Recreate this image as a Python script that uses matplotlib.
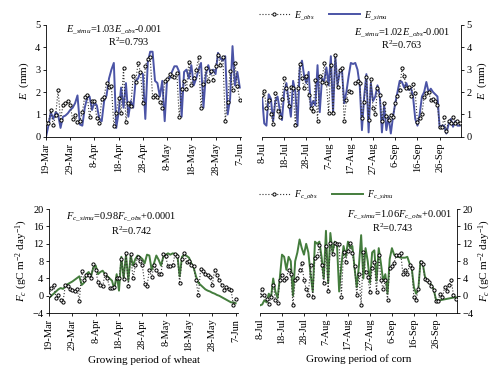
import matplotlib
matplotlib.use('Agg')
import matplotlib.pyplot as plt
import numpy as np
from matplotlib.lines import Line2D

plt.rcParams['font.family'] = ['Liberation Serif', 'DejaVu Serif']
plt.rcParams['mathtext.fontset'] = 'custom'
plt.rcParams['mathtext.rm'] = 'Liberation Serif'
plt.rcParams['mathtext.it'] = 'Liberation Serif:italic'

# tick labels (every 10 days)
wheat_ticks = ['19-Mar', '29-Mar', '8-Apr', '18-Apr', '28-Apr', '8-May', '18-May', '28-May', '7-Jun']
corn_ticks = ['8-Jul', '18-Jul', '28-Jul', '7-Aug', '17-Aug', '27-Aug', '6-Sep', '16-Sep', '26-Sep']

# evapotranspiration, wheat (19-Mar .. 7-Jun)
e_obs_wheat = [0.63, 0.63, 1.2, 0.52, 0.97, 2.08, 0.75, 1.4, 1.5, 1.6, 1.4, 0.78, 0.97, 0.67, 0.72,
               1.1, 1.8, 1.85, 0.87, 1.6, 1.6, 0.82, 0.6, 1.67, 1.8, 2.42, 2.24, 2.27, 0.48, 1.07,
               1.72, 1.07, 3.06, 0.67, 1.52, 1.37, 2.7, 2.46, 3.28, 2.9, 1.52, 3.16, 3.46, 3.55, 1.8,
               1.87, 1.8, 1.57, 1.31, 2.49, 2.57, 2.8, 2.7, 2.66, 2.86, 0.87, 2.12, 2.5, 2.12, 3.36,
               2.31, 2.61, 2.98, 3.55, 1.3, 2.36, 3.06, 2.49, 2.94, 2.54, 3.16, 3.66, 3.21, 3.58, 0.72,
               1.57, 2.94, 2.09, 3.31, 2.27, 1.64]
e_sim_wheat = [0.0, 0.5, 1.1, 0.8, 1.1, 1.0, 0.4, 0.9, 0.95, 1.05, 1.2, 1.3, 1.5, 1.85, 0.55,
               0.5, 1.3, 1.75, 1.8, 1.2, 1.55, 1.4, 0.8, 0.7, 1.6, 1.85, 2.6, 3.0, 3.3, 0.4,
               1.1, 2.2, 1.3, 2.4, 0.9, 1.6, 1.3, 2.5, 2.6, 2.9, 2.8, 0.8, 3.3, 3.8, 3.8,
               2.5, 2.4, 1.8, 2.5, 0.7, 2.6, 2.6, 2.9, 3.15, 3.15, 2.9, 0.9, 2.9, 3.0, 2.6,
               3.2, 2.3, 2.6, 3.0, 3.3, 1.3, 2.8, 3.2, 2.8, 3.0, 2.8, 3.75, 3.5, 3.4, 3.6,
               1.0, 1.7, 4.05, 2.3, 2.9, 2.2]

# evapotranspiration, corn (8-Jul .. 5-Oct)
e_obs_corn = [1.87, 2.06, 1.31, 1.64, 1.04, 0.57, 1.94, 1.15, 0.9, 1.69, 2.61, 2.16, 1.37, 2.24, 2.16,
              0.52, 2.16, 3.25, 2.61, 2.16, 2.72, 1.87, 1.27, 1.15, 2.54, 0.72, 2.72, 2.46, 3.31, 2.42,
              1.07, 3.21, 1.07, 3.66, 2.21, 2.98, 3.06, 0.72, 1.64, 2.06, 2.01, np.nan, 2.39, 2.49, 2.42,
              0.82, 1.57, 2.69, 0.75, 2.57, 1.27, 1.01, 2.16, 1.87, 0.72, 1.52, 0.93, 0.75, 0.97, 0.87,
              1.49, 1.82, 2.09, 3.06, 2.72, 2.16, 2.21, 1.82, 2.36, 1.94, 0.67, 0.82, 1.01, 1.79, 1.94,
              2.01, 1.64, 1.67, 1.61, 1.42, 0.42, 0.42, 0.87, 0.27, 0.72, 0.63, 0.9, 0.6, 0.72, 0.63]
e_sim_corn = [1.85, 0.6, 0.5, 1.9, 1.7, 0.7, 1.6, 1.8, 1.2, 0.75, 2.0, 2.4, 1.6, 0.9, 2.5,
              2.0, 0.5, 3.1, 3.4, 2.7, 2.4, 2.9, 1.3, 1.6, 1.4, 3.2, 1.1, 2.6, 2.5, 3.1,
              2.3, 3.6, 1.1, 3.6, 2.3, 2.9, 3.0, 1.5, 2.0, 2.7, 3.3, 3.25, 3.3, 3.0, 2.3,
              0.3, 1.8, 2.8, 0.2, 2.4, 1.6, 1.8, 2.3, 1.9, 0.2, 1.4, 0.3, 0.9, 0.15, 0.9,
              1.5, 2.0, 2.5, 2.45, 2.2, 2.4, 2.1, 2.2, 1.8, 0.8, 0.5, 1.0, 1.8, 2.0, 2.45,
              2.0, 2.15, 2.0, 1.9, 1.8, 0.4, 0.5, 0.5, 0.15, 0.55, 0.8, 0.45, 0.7, 0.5, 0.5]

# carbon flux, wheat
f_obs_wheat = [0.3, 1.8, 2.6, -0.5, 0.1, -0.9, -1.4, 2.4, 2.2, 1.6, 1.4, 1.2, 1.6, -1.2, 5.7,
               3.7, 4.7, 4.9, 4.2, 7.3, 5.9, 3.2, 2.4, 2.2, 5.0, 4.0, 1.9, 1.9, 2.0, 4.0,
               4.0, 8.6, 3.9, 9.9, 2.2, 9.6, 4.0, 7.0, 9.0, 8.0, 7.0, 2.8, 2.2, 6.0, 4.3,
               7.0, 6.0, 5.0, 5.0, 9.6, 9.1, 6.8, 6.8, 7.0, 9.6, 9.1, 2.9, 8.4, 9.9, 7.8,
               8.0, 7.0, 6.8, 3.6, 0.1, 6.3, 5.7, 5.1, 4.7, 4.3, 2.6, 6.0, 4.7, 3.6, 2.6,
               1.4, 2.0, 1.6, 1.4, -2.0, -0.7]
f_sim_wheat = [-0.5, 0.0, 0.5, 1.0, 1.5, 1.8, 1.6, 2.2, 2.7, 3.0, 3.3, 3.7, 4.1, 4.5, 2.5,
               3.0, 5.0, 5.5, 4.5, 6.5, 7.0, 5.0, 5.5, 5.8, 5.0, 4.5, 4.0, 3.5, 1.5, 5.0,
               1.2, 9.0, 4.0, 9.5, 3.5, 9.3, 7.0, 8.5, 9.3, 9.0, 8.5, 7.5, 9.5, 9.3, 6.0,
               7.5, 9.3, 8.3, 7.0, 9.0, 9.5, 9.8, 9.5, 9.8, 9.7, 9.5, 4.5, 9.0, 9.5, 9.2,
               8.8, 7.5, 6.5, 4.5, 3.0, 2.5, 2.0, 1.5, 1.2, 1.0, 0.7, 0.5, 0.2, 0.0, -0.3,
               -0.6, -0.9, -1.2, -1.5, -1.5, -1.7]

# carbon flux, corn
f_obs_corn = [0.2, 1.6, 0.1, -0.7, -1.9, -0.2, 2.6, -0.9, -1.7, 3.6, 4.7, 3.6, 4.2, 6.0, 5.0,
              -2.0, 3.6, 4.2, 5.9, 7.6, 3.7, 1.6, 0.3, 7.0, -0.2, 8.8, 9.1, 11.7, 7.0, 2.9,
              11.5, 1.2, 12.2, 9.6, 12.2, 11.9, 11.9, -0.2, 10.1, 7.8, 10.4, 12.1, 9.8, 6.8, 0.1,
              5.1, -2.0, 10.1, 5.5, 4.3, 0.9, 6.5, 7.8, 0.9, 9.4, 3.6, 1.6, 3.7, -0.9, 6.5,
              6.8, 7.6, 9.4, 9.4, 9.9, 5.0, 6.0, 5.1, 7.0, 6.5, -0.3, -0.9, 1.6, 7.8, 7.3,
              3.9, 3.6, 3.2, 2.2, 1.4, -1.1, -1.1, 0.5, -0.3, 2.0, 1.2, 2.6, 3.6, 0.1, -0.7]
f_sim_corn = [-2.2, -2.0, -1.0, -1.5, 0.5, -0.5, 4.0, 1.0, -0.5, 4.0, 9.5, 9.0, 6.0, 9.0, 8.0,
              0.0, 8.0, 10.0, 13.0, 11.0, 9.5, 12.0, 10.0, 5.0, 1.0, 12.5, 12.0, 12.5, 9.0, 4.0,
              15.0, 3.0, 14.5, 10.0, 12.5, 12.0, 1.0, 7.0, 11.5, 9.0, 12.5, 11.0, 11.5, 6.5, 2.0,
              7.0, 14.0, 4.0, 11.0, 8.0, 3.0, 10.0, 10.5, 3.5, 11.0, 7.5, 3.5, 5.0, 0.5, 8.5,
              11.0, 9.5, 9.0, 9.0, 8.8, 8.8, 8.8, 9.0, 7.5, 6.5, 2.0, 0.5, 1.5, 8.0, 7.5,
              4.5, 3.5, 3.0, 2.5, 1.5, -0.8, -1.0, -1.0, -0.9, -0.8, -0.7, -0.6, -0.5, -0.4, -0.3]

blue = '#4b54a6'
green = '#447d3d'

fig = plt.figure(figsize=(5, 3.65), dpi=100)
ax1 = fig.add_axes([0.092, 0.625, 0.39, 0.307])
ax2 = fig.add_axes([0.524, 0.625, 0.398, 0.307])
ax3 = fig.add_axes([0.098, 0.142, 0.378, 0.285])
ax4 = fig.add_axes([0.52, 0.142, 0.394, 0.285])

obs_kw = dict(color='#333333', ls=':', lw=0.8, marker='o', ms=2.3, mfc='white', mec='black', mew=0.7)


def draw(ax, obs, sim, col, ticks, xmax, right):
    x = np.arange(len(obs))
    ax.plot(x, obs, **obs_kw, zorder=3)
    ax.plot(np.arange(len(sim)), sim, color=col, lw=1.4, zorder=2)
    ax.set_xlim(0, xmax)
    ax.set_xticks(np.arange(len(ticks)) * 10)
    ax.set_xticklabels(ticks, rotation=90)
    ax.tick_params(axis='both', labelsize=7.5, length=2.5, width=0.6, pad=1.5)
    ax.spines['top'].set_visible(False)
    if right:
        ax.spines['left'].set_visible(False)
        ax.yaxis.tick_right()
        ax.yaxis.set_label_position('right')
    else:
        ax.spines['right'].set_visible(False)
    for s in ax.spines.values():
        s.set_linewidth(0.6)


draw(ax1, e_obs_wheat, e_sim_wheat, blue, wheat_ticks, 80.5, False)
draw(ax2, e_obs_corn, e_sim_corn, blue, corn_ticks, 89.6, True)
draw(ax3, f_obs_wheat, f_sim_wheat, green, wheat_ticks, 81, False)
draw(ax4, f_obs_corn, f_sim_corn, green, corn_ticks, 89.6, True)

for ax in (ax1, ax2):
    ax.set_ylim(0, 5)
    ax.set_yticks(range(0, 6))
    ax.set_ylabel(r'$E$  (mm)', fontsize=8, labelpad=3)
for ax in (ax3, ax4):
    ax.set_ylim(-4, 20)
    ax.set_yticks(range(-4, 21, 4))
    ax.set_ylabel(r'$F_c$ (gC m$^{-2}$ day$^{-1}$)', fontsize=8, labelpad=2)

ax3.set_xlabel('Growing period of wheat', fontsize=8, labelpad=3)
ax4.set_xlabel('Growing period of corn', fontsize=8, labelpad=3)

fs = 7.5
ax1.text(0.1, 0.96, r'$E_{\_simu}$=1.03$E_{\_obs}$-0.001', transform=ax1.transAxes, fontsize=fs, va='center')
ax1.text(0.32, 0.85, r'R$^2$=0.793', transform=ax1.transAxes, fontsize=fs, va='center')
ax2.text(0.46, 0.93, r'$E_{\_simu}$=1.02$E_{\_obs}$-0.001', transform=ax2.transAxes, fontsize=fs, va='center')
ax2.text(0.6, 0.82, r'R$^2$=0.763', transform=ax2.transAxes, fontsize=fs, va='center')
ax3.text(0.09, 0.93, r'$F_{c\_simu}$=0.98$F_{c\_obs}$+0.0001', transform=ax3.transAxes, fontsize=fs, va='center')
ax3.text(0.33, 0.79, r'R$^2$=0.742', transform=ax3.transAxes, fontsize=fs, va='center')
ax4.text(0.44, 0.95, r'$F_{c\_simu}$=1.06$F_{c\_obs}$+0.001', transform=ax4.transAxes, fontsize=fs, va='center')
ax4.text(0.57, 0.82, r'R$^2$=0.743', transform=ax4.transAxes, fontsize=fs, va='center')

h_obs = Line2D([], [], **obs_kw)
fig.legend([h_obs, Line2D([], [], color=blue, lw=1.4)], [r'$E_{\_obs}$', r'$E_{\_simu}$'],
           loc='center left', bbox_to_anchor=(0.5, 0.958), ncol=2, frameon=False, fontsize=7,
           handlelength=3.2, columnspacing=1.5, handletextpad=0.4)
fig.legend([h_obs, Line2D([], [], color=green, lw=1.4)], [r'$F_{c\_obs}$', r'$F_{c\_simu}$'],
           loc='center left', bbox_to_anchor=(0.5, 0.465), ncol=2, frameon=False, fontsize=7,
           handlelength=3.2, columnspacing=1.5, handletextpad=0.4)

fig.savefig('out.png', dpi=100)
